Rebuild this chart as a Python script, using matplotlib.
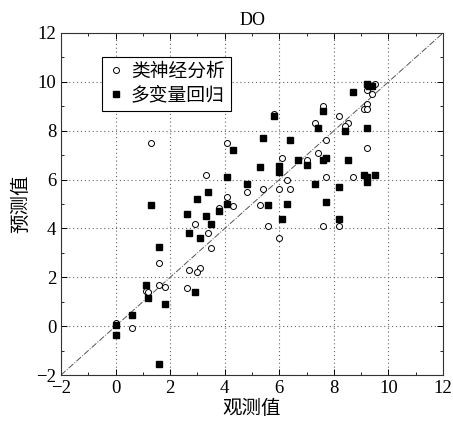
import numpy as np
import matplotlib
matplotlib.use("Agg")
import matplotlib.pyplot as plt
from matplotlib.ticker import MultipleLocator

plt.rcParams['font.family'] = ['Liberation Serif', 'Noto Sans CJK SC', 'DejaVu Sans']
plt.rcParams['axes.unicode_minus'] = True

# 类神经分析 (hollow circles)
ann_x = [1.3, 4.1, 3.3, 4.8, 4.1, 4.3, 5.3, 3.8, 2.9, 3.4, 3.5, 1.6, 2.7, 3.1, 3.0,
         1.6, 1.8, 1.1, 1.2, 2.6, 0.0, 0.6,
         9.5, 9.2, 9.4, 9.2, 9.1, 9.2, 7.6, 5.8, 8.2, 7.3, 8.5, 8.4, 7.7, 9.2, 6.1,
         7.4, 7.0, 6.3, 7.7, 8.7, 5.4, 6.0, 6.4, 5.6, 7.6, 8.2, 6.0]
ann_y = [7.5, 7.5, 6.2, 5.5, 5.3, 4.9, 4.95, 4.85, 4.2, 3.8, 3.2, 2.6, 2.3, 2.4, 2.2,
         1.7, 1.6, 1.45, 1.4, 1.55, 0.13, -0.07,
         9.9, 9.65, 9.5, 9.1, 8.9, 8.9, 9.0, 8.7, 8.6, 8.3, 8.3, 8.2, 7.6, 7.3, 6.9,
         7.1, 6.8, 6.0, 6.1, 6.1, 5.6, 5.6, 5.6, 4.1, 4.1, 4.1, 3.6]

# 多变量回归 (filled squares)
reg_x = [4.3, 4.1, 4.8, 3.4, 3.0, 4.1, 1.3, 3.8, 2.6, 3.3, 3.5, 2.7, 3.1, 1.6, 1.1,
         1.2, 2.9, 1.8, 0.6, 0.0, 0.0, 1.6,
         9.2, 9.3, 9.4, 8.7, 7.6, 5.8, 7.4, 8.4, 9.2, 5.4, 6.4, 6.7, 7.0, 7.7, 7.6,
         8.5, 5.3, 6.0, 6.0, 9.1, 9.2, 9.2, 9.5, 7.3, 8.2, 5.6, 6.3, 7.7, 6.1, 8.2]
reg_y = [7.2, 6.1, 5.8, 5.5, 5.2, 5.0, 4.95, 4.7, 4.6, 4.5, 4.2, 3.8, 3.6, 3.25, 1.7,
         1.15, 1.4, 0.9, 0.45, 0.05, -0.35, -1.55,
         9.9, 9.85, 9.85, 9.6, 8.8, 8.6, 8.1, 8.0, 8.1, 7.7, 7.6, 6.8, 6.6, 6.9, 6.8,
         6.8, 6.5, 6.55, 6.3, 6.2, 6.1, 5.9, 6.2, 5.8, 5.7, 4.95, 5.0, 5.1, 4.4, 4.4]

fig = plt.figure(figsize=(4.53, 4.25), dpi=100)
ax = fig.add_axes([0.1347, 0.1176, 0.8433, 0.8048])

ax.plot([-2, 12], [-2, 12], color='#555555', lw=0.7, ls='-.', zorder=1)
ax.plot(ann_x, ann_y, 'o', ms=4.3, mfc='white', mec='black', mew=0.7,
        ls='none', label='类神经分析', zorder=3)
ax.plot(reg_x, reg_y, 's', ms=5, mfc='black', mec='black',
        ls='none', label='多变量回归', zorder=3)

ax.set_xlim(-2, 12)
ax.set_ylim(-2, 12)
ax.xaxis.set_major_locator(MultipleLocator(2))
ax.yaxis.set_major_locator(MultipleLocator(2))
ax.xaxis.set_minor_locator(MultipleLocator(1))
ax.yaxis.set_minor_locator(MultipleLocator(1))
ax.tick_params(which='both', direction='in', top=True, right=True, labelsize=13.5)
ax.tick_params(which='major', length=4, width=0.7)
ax.tick_params(which='minor', length=2.5, width=0.6)
ax.grid(True, which='major', ls=(0, (1, 2.5)), color='#666666', lw=0.8)
for s in ax.spines.values():
    s.set_linewidth(0.8)
    s.set_color('#333333')

ax.set_title('DO', fontsize=13, pad=6)
ax.set_xlabel('观测值', fontsize=14, labelpad=2)
ax.set_ylabel('预测值', fontsize=14, labelpad=4)

leg = ax.legend(loc='upper left', bbox_to_anchor=(0.107, 0.93), fontsize=13.5,
                frameon=True, fancybox=False, edgecolor='black', framealpha=1,
                handlelength=0.8, handletextpad=0.4, borderpad=0.35,
                labelspacing=0.3, borderaxespad=0)
leg.get_frame().set_linewidth(0.8)

fig.savefig('out.png', dpi=100)
